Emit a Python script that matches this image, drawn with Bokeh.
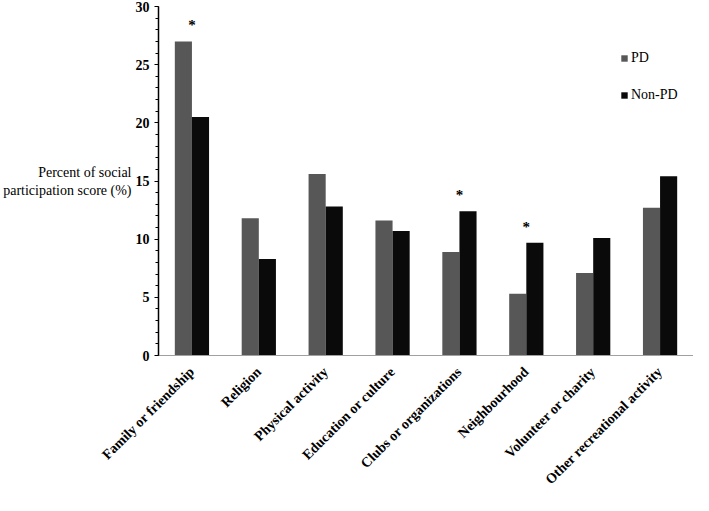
import math
from bokeh.plotting import figure
from bokeh.models import (ColumnDataSource, FactorRange, Range1d, SingleIntervalTicker,
                          Legend, LegendItem)
from bokeh.transform import dodge
from bokeh.core.properties import value
from bokeh.embed import file_html
from bokeh.resources import INLINE

categories = ["Family or friendship", "Religion", "Physical activity", "Education or culture",
              "Clubs or organizations", "Neighbourhood", "Volunteer or charity",
              "Other recreational activity"]
pd_values = [27.0, 11.8, 15.6, 11.6, 8.9, 5.3, 7.1, 12.7]
nonpd_values = [20.5, 8.3, 12.8, 10.7, 12.4, 9.7, 10.1, 15.4]
significant = ["Family or friendship", "Clubs or organizations", "Neighbourhood"]

FONT = "Liberation Serif"

src = ColumnDataSource(dict(cat=categories, pd=pd_values, npd=nonpd_values))

p = figure(width=693, height=495, x_range=FactorRange(*categories, range_padding=0),
           y_range=Range1d(0, 30), output_backend="svg", toolbar_location=None,
           min_border_left=150, min_border_top=6, min_border_bottom=113, min_border_right=0)
p.outline_line_color = None
p.xgrid.grid_line_color = None
p.ygrid.grid_line_color = None
p.background_fill_color = "white"
p.border_fill_color = "white"

bw = 0.256
r_pd = p.vbar(x=dodge("cat", -bw / 2, range=p.x_range), top="pd", width=bw, bottom=0,
              source=src, fill_color="#575757", line_color=None)
r_npd = p.vbar(x=dodge("cat", bw / 2, range=p.x_range), top="npd", width=bw, bottom=0,
               source=src, fill_color="#0a0a0a", line_color=None)

# significance asterisks
star_y = [max(a, b) for c, a, b in zip(categories, pd_values, nonpd_values) if c in significant]
star_src = ColumnDataSource(dict(cat=significant, y=star_y, t=["*"] * len(significant)))
p.text(x="cat", y="y", text="t", source=star_src, text_align="center",
       text_baseline="alphabetic", y_offset=-16, text_font=value(FONT),
       text_font_style="bold", text_font_size="15px", text_color="black")

# y axis
ya = p.yaxis[0]
ya.ticker = SingleIntervalTicker(interval=5, num_minor_ticks=5)
ya.axis_line_color = "black"
ya.axis_line_width = 1.5
ya.major_tick_in = 0
ya.major_tick_out = 4
ya.minor_tick_in = 0
ya.minor_tick_out = 3
ya.major_tick_line_color = "black"
ya.minor_tick_line_color = "black"
ya.major_label_text_font = FONT
ya.major_label_text_font_style = "bold"
ya.major_label_text_font_size = "14px"
ya.major_label_text_color = "black"
ya.major_label_standoff = 5
ya.axis_label = "Percent of social\nparticipation score (%)"
ya.axis_label_orientation = "horizontal"
ya.axis_label_standoff = 1
ya.axis_label_text_font = FONT
ya.axis_label_text_font_style = "normal"
ya.axis_label_text_font_size = "14px"
ya.axis_label_text_color = "black"
ya.axis_label_text_align = "center"

# x axis
xa = p.xaxis[0]
xa.axis_line_color = "#a0a0a0"
xa.axis_line_width = 1
xa.major_tick_line_color = None
xa.minor_tick_line_color = None
xa.major_label_orientation = math.pi / 4
xa.major_label_text_font = FONT
xa.major_label_text_font_style = "bold"
xa.major_label_text_font_size = "14px"
xa.major_label_text_color = "black"
xa.major_label_standoff = 8

legend = Legend(items=[LegendItem(label="PD", renderers=[r_pd]),
                       LegendItem(label="Non-PD", renderers=[r_npd])],
                location=(462, 250), orientation="vertical")
legend.glyph_width = 8
legend.glyph_height = 8
legend.label_standoff = 3
legend.padding = 0
legend.margin = 0
legend.spacing = 17
legend.label_height = 20
legend.border_line_color = None
legend.background_fill_alpha = 0
legend.label_text_font = FONT
legend.label_text_font_size = "14px"
legend.label_text_color = "black"
p.add_layout(legend)

open("out.html", "w").write(file_html(p, INLINE))
